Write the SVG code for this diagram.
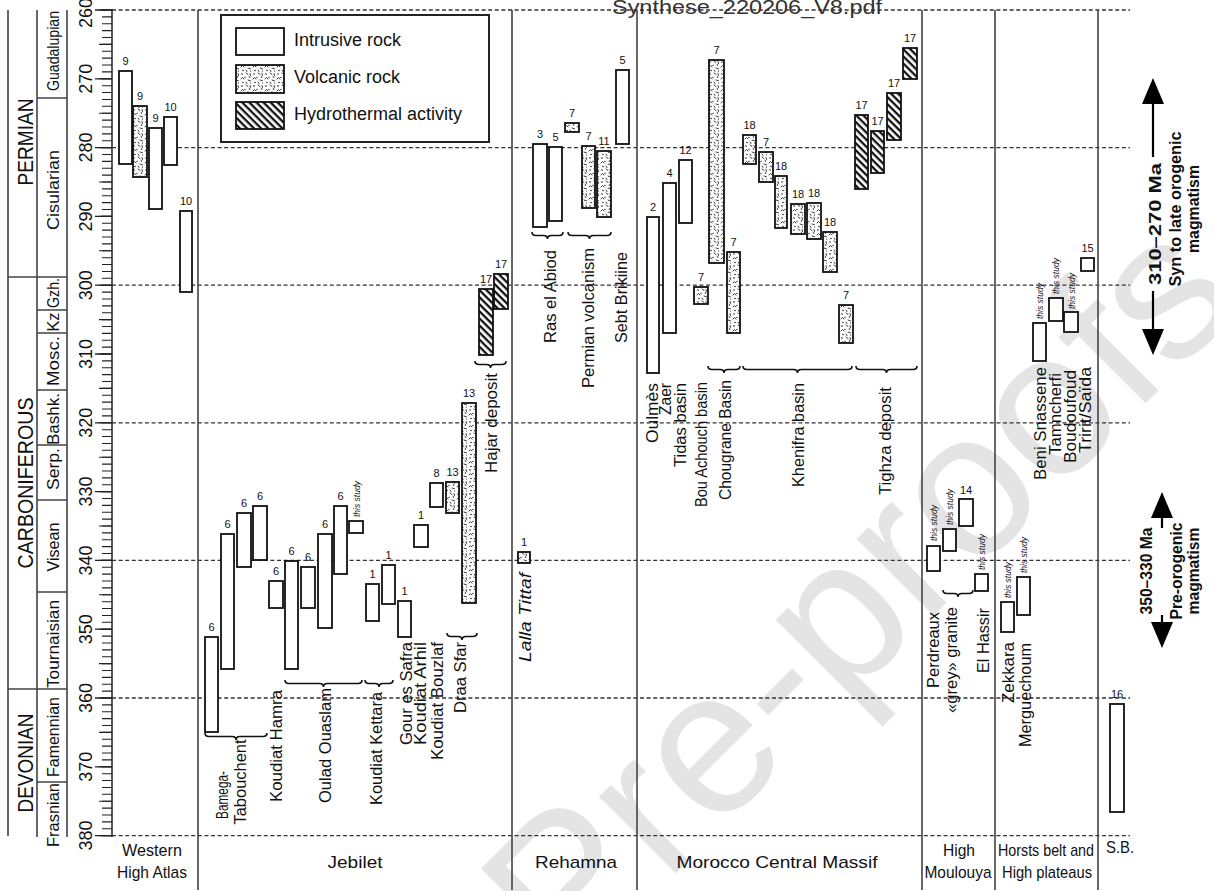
<svg xmlns="http://www.w3.org/2000/svg" width="1214" height="891" viewBox="0 0 1214 891">
<defs>
<style>
text{font-family:"Liberation Sans",Arial,sans-serif;fill:#111}
.bar{stroke:#111;stroke-width:1.8}
.i{fill:#fff}
.v{fill:url(#volc)}
.h{fill:url(#hyd)}
.n{font-size:11px;text-anchor:middle}
.ts{font-size:8.5px;font-style:italic}
.lab{font-size:16px;text-anchor:end}
.mid{text-anchor:middle}
.dash{stroke:#333;stroke-width:1.3;stroke-dasharray:4 2.6;fill:none}
.col{stroke:#444;stroke-width:1.6;fill:none}
.br{fill:none;stroke:#111;stroke-width:1.6}
.ax{stroke:#222;stroke-width:1.5;fill:none}
.ep{font-size:17px;text-anchor:middle}
.per{font-size:22px;text-anchor:middle}
.num{font-size:18px;text-anchor:middle}
.hd{font-size:17px;text-anchor:middle}
.bold{font-weight:bold;font-size:16px;text-anchor:middle}
.leg{font-size:18px}
.arr{stroke:#000;stroke-width:2.2;fill:none;marker-end:url(#ah)}
</style>
<pattern id="volc" patternUnits="userSpaceOnUse" width="12" height="12">
<rect width="12" height="12" fill="#fff"/>
<g fill="#222" stroke="#222" stroke-width="0.9" stroke-linecap="round">
<circle cx="2" cy="2" r="0.8" stroke="none"/>
<path d="M6 1l2 1.5M1 7l1.5-1.5 1.5 1.5M8 8l2.5 0.8M6 10l1 1.5M10 1.5l0.5 2" fill="none"/>
<circle cx="9.5" cy="5" r="0.8" stroke="none"/>
<circle cx="5" cy="5.5" r="0.7" stroke="none"/>
<circle cx="3" cy="10.5" r="0.8" stroke="none"/>
<circle cx="10.5" cy="11" r="0.6" stroke="none"/>
</g>
</pattern>
<pattern id="hyd" patternUnits="userSpaceOnUse" width="5" height="5" patternTransform="rotate(45)">
<rect width="5" height="5" fill="#fff"/>
<rect width="5" height="2.3" fill="#111"/>
</pattern>
<marker id="ah" markerUnits="userSpaceOnUse" markerWidth="26" markerHeight="22" viewBox="0 0 26 22" refX="20" refY="11" orient="auto">
<path d="M0 0L26 11L0 22Z" fill="#000"/>
</marker>
</defs>
<rect width="1214" height="891" fill="#fff"/>

<g id="watermark">
<text transform="translate(569,980) rotate(-45)" font-size="205" style="fill:#e4e4e4">Pre-proofs</text>
</g>

<g id="grid">
<path class="dash" d="M112 10H1130M112 147.6H1130M112 285.2H1130M112 422.8H1130M112 560.4H1130M112 698H1130M112 835.6H1130"/>
<path class="col" d="M198 10V890M512 10V890M637 10V890M922 10V890M995 10V890M1098 10V890"/>
</g>

<g id="timescale">
<path class="col" d="M8 10V836M37 10V837M67 10V837M8 277H37M8 689H37M37 98H67M37 277H67M37 310H67M37 333H67M37 390H67M37 445H67M37 500H67M37 592H67M37 689H67M37 782H67"/>
<text class="per" transform="translate(33,142) rotate(-90)" textLength="87" lengthAdjust="spacingAndGlyphs">PERMIAN</text>
<text class="per" transform="translate(33,483) rotate(-90)" textLength="171" lengthAdjust="spacingAndGlyphs">CARBONIFEROUS</text>
<text class="per" transform="translate(33,763) rotate(-90)" textLength="99" lengthAdjust="spacingAndGlyphs">DEVONIAN</text>
<text class="ep" transform="translate(59,51) rotate(-90)" textLength="80" lengthAdjust="spacingAndGlyphs">Guadalupian</text>
<text class="ep" transform="translate(59,190) rotate(-90)" textLength="80" lengthAdjust="spacingAndGlyphs">Cisularian</text>
<text class="ep" transform="translate(59,293) rotate(-90)" textLength="30" lengthAdjust="spacingAndGlyphs">Gzh.</text>
<text class="ep" transform="translate(59,322) rotate(-90)" textLength="19" lengthAdjust="spacingAndGlyphs">Kz</text>
<text class="ep" transform="translate(59,361) rotate(-90)" textLength="50" lengthAdjust="spacingAndGlyphs">Mosc.</text>
<text class="ep" transform="translate(59,419) rotate(-90)" textLength="52" lengthAdjust="spacingAndGlyphs">Bashk.</text>
<text class="ep" transform="translate(59,469) rotate(-90)" textLength="42" lengthAdjust="spacingAndGlyphs">Serp.</text>
<text class="ep" transform="translate(59,547) rotate(-90)" textLength="49" lengthAdjust="spacingAndGlyphs">Visean</text>
<text class="ep" transform="translate(59,644) rotate(-90)" textLength="88" lengthAdjust="spacingAndGlyphs">Tournaisian</text>
<text class="ep" transform="translate(59,737) rotate(-90)" textLength="80" lengthAdjust="spacingAndGlyphs">Famennian</text>
<text class="ep" transform="translate(59,815) rotate(-90)" textLength="64" lengthAdjust="spacingAndGlyphs">Frasnian</text>
<path class="ax" d="M112 9V837"/>
<path d="M107 9.45V837" stroke="#222" stroke-width="10" stroke-dasharray="1.1 5.78" fill="none"/>
<path d="M105.5 9.45V837" stroke="#222" stroke-width="13" stroke-dasharray="1.1 33.3" fill="none"/>
<path d="M103.5 9.35V837" stroke="#222" stroke-width="17" stroke-dasharray="1.3 67.5" fill="none"/>
<text class="num" transform="translate(92,13) rotate(-90)">260</text>
<text class="num" transform="translate(92,78.8) rotate(-90)">270</text>
<text class="num" transform="translate(92,147.6) rotate(-90)">280</text>
<text class="num" transform="translate(92,216.4) rotate(-90)">290</text>
<text class="num" transform="translate(92,285.2) rotate(-90)">300</text>
<text class="num" transform="translate(92,354) rotate(-90)">310</text>
<text class="num" transform="translate(92,422.8) rotate(-90)">320</text>
<text class="num" transform="translate(92,491.6) rotate(-90)">330</text>
<text class="num" transform="translate(92,560.4) rotate(-90)">340</text>
<text class="num" transform="translate(92,629.2) rotate(-90)">350</text>
<text class="num" transform="translate(92,698) rotate(-90)">360</text>
<text class="num" transform="translate(92,766.8) rotate(-90)">370</text>
<text class="num" transform="translate(92,835.6) rotate(-90)">380</text>
</g>

<g id="legend">
<rect x="221" y="15" width="268" height="127" fill="#fff" stroke="#222" stroke-width="2"/>
<rect class="bar i" x="236" y="28" width="48" height="27"/>
<rect class="bar v" x="236" y="65" width="48" height="28"/>
<rect class="bar h" x="236" y="102" width="48" height="27"/>
<text class="leg" x="294" y="46">Intrusive rock</text>
<text class="leg" x="294" y="83">Volcanic rock</text>
<text class="leg" x="294" y="120">Hydrothermal activity</text>
</g>

<g id="header-file">
<text x="612" y="14" font-size="20" textLength="270" lengthAdjust="spacingAndGlyphs" style="fill:#333">Synthese_220206_V8.pdf</text>
</g>

<g id="connectors">
<path class="br" d="M205 733q0 3.5 4 3.5H232q4 0 4 3.5q0-3.5 4-3.5H263q4 0 4-3.5"/>
<path class="br" d="M285 680q0 3.5 4 3.5H319.5q4 0 4 3.5q0-3.5 4-3.5H358q4 0 4-3.5"/>
<path class="br" d="M365 680q0 3.5 4 3.5H375q4 0 4 3.5q0-3.5 4-3.5H389q4 0 4-3.5"/>
<path class="br" d="M447 633q0 3.5 4 3.5H458q4 0 4 3.5q0-3.5 4-3.5H473q4 0 4-3.5"/>
<path class="br" d="M475 361q0 3.5 4 3.5H486.5q4 0 4 3.5q0-3.5 4-3.5H502q4 0 4-3.5"/>
<path class="br" d="M532 232q0 3.5 4 3.5H543.5q4 0 4 3.5q0-3.5 4-3.5H559q4 0 4-3.5"/>
<path class="br" d="M568 232q0 3.5 4 3.5H585.5q4 0 4 3.5q0-3.5 4-3.5H607q4 0 4-3.5"/>
<path class="br" d="M708 366q0 3.5 4 3.5H720q4 0 4 3.5q0-3.5 4-3.5H736q4 0 4-3.5"/>
<path class="br" d="M743 366q0 3.5 4 3.5H793.5q4 0 4 3.5q0-3.5 4-3.5H848q4 0 4-3.5"/>
<path class="br" d="M856 366q0 3.5 4 3.5H882.5q4 0 4 3.5q0-3.5 4-3.5H913q4 0 4-3.5"/>
<path class="br" d="M943 590q0 3.5 4 3.5H954q4 0 4 3.5q0-3.5 4-3.5H969q4 0 4-3.5"/>
<path class="arr" d="M1153 157V84"/>
<path class="arr" d="M1153 291V349"/>
<path class="arr" d="M1162 528V498"/>
<path class="arr" d="M1162 615V642"/>
</g>

<g id="western-high-atlas">
<rect class="bar i" x="119" y="71" width="13" height="93"/>
<rect class="bar v" x="133" y="106" width="14" height="71"/>
<rect class="bar i" x="149" y="128" width="13" height="81"/>
<rect class="bar i" x="164" y="117" width="13" height="48"/>
<rect class="bar i" x="180" y="211" width="12" height="81"/>
<text class="n" x="125.5" y="65">9</text>
<text class="n" x="140" y="100">9</text>
<text class="n" x="155.5" y="122">9</text>
<text class="n" x="170.5" y="111">10</text>
<text class="n" x="186" y="205">10</text>
<text class="hd" x="152" y="856" textLength="60" lengthAdjust="spacingAndGlyphs">Western</text>
<text class="hd" x="152" y="878" textLength="70" lengthAdjust="spacingAndGlyphs">High Atlas</text>
</g>

<g id="jebilet">
<rect class="bar i" x="205" y="637" width="13" height="95"/>
<rect class="bar i" x="221" y="534" width="13" height="135"/>
<rect class="bar i" x="237" y="513" width="14" height="54"/>
<rect class="bar i" x="253" y="506" width="14" height="54"/>
<rect class="bar i" x="269" y="581" width="14" height="27"/>
<rect class="bar i" x="285" y="561" width="13" height="108"/>
<rect class="bar i" x="301" y="567" width="14" height="41"/>
<rect class="bar i" x="318" y="534" width="14" height="94"/>
<rect class="bar i" x="334" y="506" width="13" height="68"/>
<rect class="bar i" x="349" y="521" width="14" height="12"/>
<rect class="bar i" x="366" y="584" width="13" height="37"/>
<rect class="bar i" x="382" y="565" width="13" height="39"/>
<rect class="bar i" x="398" y="601" width="13" height="36"/>
<rect class="bar i" x="414" y="525" width="14" height="22"/>
<rect class="bar i" x="430" y="483" width="13" height="24"/>
<rect class="bar v" x="446" y="482" width="13" height="31"/>
<rect class="bar v" x="462" y="403" width="14" height="200"/>
<rect class="bar h" x="479" y="289" width="14" height="66"/>
<rect class="bar h" x="494" y="274" width="14" height="35"/>
<text class="n" x="211.5" y="631">6</text>
<text class="n" x="227.5" y="528">6</text>
<text class="n" x="244" y="507">6</text>
<text class="n" x="260" y="500">6</text>
<text class="n" x="276" y="575">6</text>
<text class="n" x="291.5" y="555">6</text>
<text class="n" x="308" y="561">6</text>
<text class="n" x="325" y="528">6</text>
<text class="n" x="340.5" y="500">6</text>
<text class="ts" transform="translate(360,517) rotate(-90)">this study</text>
<text class="n" x="372.5" y="578">1</text>
<text class="n" x="388.5" y="559">1</text>
<text class="n" x="404.5" y="595">1</text>
<text class="n" x="421" y="519">1</text>
<text class="n" x="436.5" y="477">8</text>
<text class="n" x="452.5" y="476">13</text>
<text class="n" x="469" y="397">13</text>
<text class="n" x="486" y="283">17</text>
<text class="n" x="501" y="268">17</text>
<text class="lab mid" transform="translate(228,795) rotate(-90)" font-size="14" textLength="48" lengthAdjust="spacingAndGlyphs">Bamega-</text>
<text class="lab mid" transform="translate(246,782) rotate(-90)" textLength="85" lengthAdjust="spacingAndGlyphs">Tabouchent</text>
<text class="lab" transform="translate(282,690) rotate(-90)" textLength="112" lengthAdjust="spacingAndGlyphs">Koudiat Hamra</text>
<text class="lab" transform="translate(331,688) rotate(-90)" textLength="115" lengthAdjust="spacingAndGlyphs">Oulad Ouaslam</text>
<text class="lab" transform="translate(382,692) rotate(-90)" textLength="113" lengthAdjust="spacingAndGlyphs">Koudiat Kettara</text>
<text class="lab" transform="translate(412,642) rotate(-90)" textLength="103" lengthAdjust="spacingAndGlyphs">Gour es Safra</text>
<text class="lab" transform="translate(426,642) rotate(-90)" textLength="103" lengthAdjust="spacingAndGlyphs">Koudiat Arhil</text>
<text class="lab" transform="translate(443,642) rotate(-90)" textLength="118" lengthAdjust="spacingAndGlyphs">Koudiat Bouzlaf</text>
<text class="lab" transform="translate(466,642) rotate(-90)" textLength="71" lengthAdjust="spacingAndGlyphs">Draa Sfar</text>
<text class="lab" transform="translate(497,373) rotate(-90)" textLength="100" lengthAdjust="spacingAndGlyphs">Hajar deposit</text>
<text class="hd" x="355" y="868" textLength="55" lengthAdjust="spacingAndGlyphs">Jebilet</text>
</g>

<g id="rehamna">
<rect class="bar i" x="533" y="144" width="14" height="83"/>
<rect class="bar i" x="549" y="147" width="13" height="74"/>
<rect class="bar v" x="565" y="123" width="14" height="9"/>
<rect class="bar v" x="582" y="146" width="13" height="62"/>
<rect class="bar v" x="597" y="151" width="14" height="66"/>
<rect class="bar i" x="616" y="70" width="13" height="74"/>
<rect class="bar v" x="518" y="552" width="12" height="11"/>
<text class="n" x="540" y="138">3</text>
<text class="n" x="555.5" y="141">5</text>
<text class="n" x="572" y="117">7</text>
<text class="n" x="588.5" y="140">7</text>
<text class="n" x="604" y="145">11</text>
<text class="n" x="622.5" y="64">5</text>
<text class="n" x="524" y="546">1</text>
<text class="lab" transform="translate(556,250) rotate(-90)" textLength="93" lengthAdjust="spacingAndGlyphs">Ras el Abiod</text>
<text class="lab" transform="translate(594,248) rotate(-90)" textLength="140" lengthAdjust="spacingAndGlyphs">Permian volcanism</text>
<text class="lab" transform="translate(627,252) rotate(-90)" textLength="91" lengthAdjust="spacingAndGlyphs">Sebt Brikiine</text>
<text class="lab" transform="translate(531,573) rotate(-90)" font-style="italic" textLength="89" lengthAdjust="spacingAndGlyphs">Lalla Tittaf</text>
<text class="hd" x="576" y="868" textLength="82" lengthAdjust="spacingAndGlyphs">Rehamna</text>
</g>

<g id="morocco-central-massif">
<rect class="bar i" x="647" y="217" width="12" height="156"/>
<rect class="bar i" x="663" y="183" width="13" height="150"/>
<rect class="bar i" x="679" y="160" width="13" height="63"/>
<rect class="bar v" x="694" y="287" width="14" height="17"/>
<rect class="bar v" x="709" y="60" width="15" height="203"/>
<rect class="bar v" x="727" y="252" width="13" height="81"/>
<rect class="bar v" x="743" y="135" width="13" height="29"/>
<rect class="bar v" x="759" y="152" width="14" height="30"/>
<rect class="bar v" x="775" y="176" width="12" height="52"/>
<rect class="bar v" x="791" y="204" width="14" height="30"/>
<rect class="bar v" x="807" y="203" width="14" height="36"/>
<rect class="bar v" x="823" y="232" width="14" height="40"/>
<rect class="bar v" x="839" y="305" width="14" height="38"/>
<rect class="bar h" x="855" y="115" width="13" height="74"/>
<rect class="bar h" x="871" y="131" width="13" height="42"/>
<rect class="bar h" x="887" y="93" width="14" height="47"/>
<rect class="bar h" x="903" y="48" width="14" height="31"/>
<text class="n" x="653" y="211">2</text>
<text class="n" x="669.5" y="177">4</text>
<text class="n" x="685.5" y="154">12</text>
<text class="n" x="701" y="281">7</text>
<text class="n" x="716.5" y="54">7</text>
<text class="n" x="733.5" y="246">7</text>
<text class="n" x="749.5" y="129">18</text>
<text class="n" x="766" y="146">7</text>
<text class="n" x="781" y="170">18</text>
<text class="n" x="798" y="198">18</text>
<text class="n" x="814" y="197">18</text>
<text class="n" x="830" y="226">18</text>
<text class="n" x="846" y="299">7</text>
<text class="n" x="861.5" y="109">17</text>
<text class="n" x="877.5" y="125">17</text>
<text class="n" x="894" y="87">17</text>
<text class="n" x="910" y="42">17</text>
<text class="lab" transform="translate(658,383) rotate(-90)" textLength="60" lengthAdjust="spacingAndGlyphs">Oulmès</text>
<text class="lab" transform="translate(671,383) rotate(-90)" textLength="32" lengthAdjust="spacingAndGlyphs">Zaer</text>
<text class="lab" transform="translate(686,383) rotate(-90)" textLength="84" lengthAdjust="spacingAndGlyphs">Tidas basin</text>
<text class="lab" transform="translate(707,382) rotate(-90)" textLength="125" lengthAdjust="spacingAndGlyphs">Bou Achouch basin</text>
<text class="lab" transform="translate(731,380) rotate(-90)" textLength="120" lengthAdjust="spacingAndGlyphs">Chougrane Basin</text>
<text class="lab" transform="translate(804,383) rotate(-90)" textLength="104" lengthAdjust="spacingAndGlyphs">Khenifra basin</text>
<text class="lab" transform="translate(891,387) rotate(-90)" textLength="108" lengthAdjust="spacingAndGlyphs">Tighza deposit</text>
<text class="hd" x="777" y="868" textLength="201" lengthAdjust="spacingAndGlyphs">Morocco Central Massif</text>
</g>

<g id="high-moulouya">
<rect class="bar i" x="927" y="546" width="13" height="25"/>
<rect class="bar i" x="943" y="529" width="13" height="22"/>
<rect class="bar i" x="959" y="499" width="14" height="27"/>
<rect class="bar i" x="975" y="574" width="13" height="17"/>
<text class="ts" transform="translate(937,541) rotate(-90)">this study</text>
<text class="ts" transform="translate(953,525) rotate(-90)">this study</text>
<text class="n" x="966" y="494">14</text>
<text class="ts" transform="translate(985,570) rotate(-90)">this study</text>
<text class="lab" transform="translate(939,612) rotate(-90)" textLength="76" lengthAdjust="spacingAndGlyphs">Perdreaux</text>
<text class="lab" transform="translate(957,607) rotate(-90)" textLength="106" lengthAdjust="spacingAndGlyphs">«grey» granite</text>
<text class="lab" transform="translate(989,608) rotate(-90)" textLength="65" lengthAdjust="spacingAndGlyphs">El Hassir</text>
<text class="hd" x="959" y="856" textLength="32" lengthAdjust="spacingAndGlyphs">High</text>
<text class="hd" x="958" y="878" textLength="67" lengthAdjust="spacingAndGlyphs">Moulouya</text>
</g>

<g id="horsts-belt">
<rect class="bar i" x="1033" y="323" width="13" height="38"/>
<rect class="bar i" x="1049" y="298" width="14" height="23"/>
<rect class="bar i" x="1064" y="312" width="14" height="20"/>
<rect class="bar i" x="1081" y="258" width="13" height="13"/>
<rect class="bar i" x="1001" y="602" width="13" height="30"/>
<rect class="bar i" x="1017" y="577" width="13" height="38"/>
<text class="ts" transform="translate(1043,319) rotate(-90)">this study</text>
<text class="ts" transform="translate(1059,294) rotate(-90)">this study</text>
<text class="ts" transform="translate(1075,309) rotate(-90)">this study</text>
<text class="n" x="1087.5" y="252">15</text>
<text class="ts" transform="translate(1011,598) rotate(-90)">this study</text>
<text class="ts" transform="translate(1027,573) rotate(-90)">this study</text>
<text class="lab" transform="translate(1046,367) rotate(-90)" textLength="113" lengthAdjust="spacingAndGlyphs">Beni Snassene</text>
<text class="lab" transform="translate(1061,373) rotate(-90)" textLength="82" lengthAdjust="spacingAndGlyphs">Tamncherfi</text>
<text class="lab" transform="translate(1076,370) rotate(-90)" textLength="93" lengthAdjust="spacingAndGlyphs">Boudoufoud</text>
<text class="lab" transform="translate(1091,367) rotate(-90)" textLength="86" lengthAdjust="spacingAndGlyphs">Tririt/Saïda</text>
<text class="lab" transform="translate(1014,642) rotate(-90)" textLength="61" lengthAdjust="spacingAndGlyphs">Zekkara</text>
<text class="lab" transform="translate(1031,643) rotate(-90)" textLength="104" lengthAdjust="spacingAndGlyphs">Merguechoum</text>
<text class="hd" x="1046" y="856" textLength="96" lengthAdjust="spacingAndGlyphs">Horsts belt and</text>
<text class="hd" x="1047" y="878" textLength="90" lengthAdjust="spacingAndGlyphs">High plateaus</text>
</g>

<g id="sb">
<rect class="bar i" x="1110" y="704" width="14" height="108"/>
<text class="n" x="1117" y="698">16</text>
<text class="hd" x="1120" y="853" textLength="28" lengthAdjust="spacingAndGlyphs">S.B.</text>
</g>

<g id="magmatism-labels">
<text class="bold" transform="translate(1161,224) rotate(-90)" textLength="122" lengthAdjust="spacingAndGlyphs">310–270 Ma</text>
<text class="bold" transform="translate(1181,209) rotate(-90)" textLength="155" lengthAdjust="spacingAndGlyphs">Syn to late orogenic</text>
<text class="bold" transform="translate(1199,209) rotate(-90)" textLength="88" lengthAdjust="spacingAndGlyphs">magmatism</text>
<text class="bold" transform="translate(1152,571) rotate(-90)" textLength="87" lengthAdjust="spacingAndGlyphs">350–330 Ma</text>
<text class="bold" transform="translate(1182,571) rotate(-90)" textLength="97" lengthAdjust="spacingAndGlyphs">Pre-orogenic</text>
<text class="bold" transform="translate(1199,571) rotate(-90)" textLength="87" lengthAdjust="spacingAndGlyphs">magmatism</text>
</g>
</svg>
